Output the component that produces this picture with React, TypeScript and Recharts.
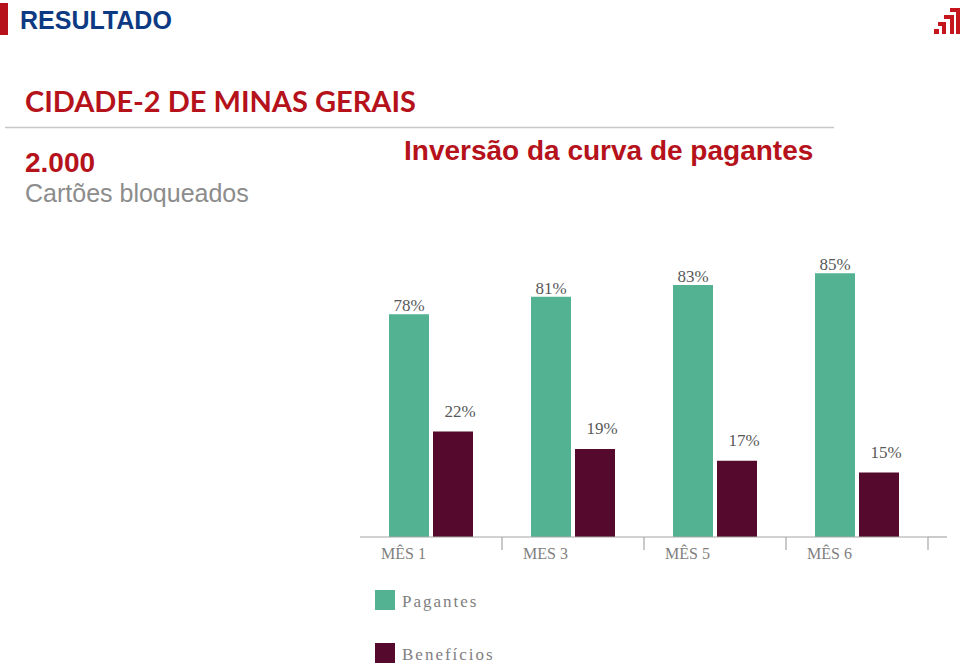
import { BarChart, Bar, XAxis, YAxis, LabelList } from 'recharts'

const months = ['MÊS 1', 'MES 3', 'MÊS 5', 'MÊS 6']
const pagantes = [78, 81, 83, 85]
const beneficios = [22, 19, 17, 15]
const seriesNames = ['Pagantes', 'Benefícios']

const GREEN = '#52b292'
const MAROON = '#550a2d'
const RED = '#b5121b'
const BAND = 142

const data = months.map((m, i) => ({ mes: m, pagantes: pagantes[i], beneficios: beneficios[i] }))
const legendItems = [
  { name: seriesNames[0], color: GREEN },
  { name: seriesNames[1], color: MAROON },
]

function MonthTick(props: any) {
  const { x, y, payload } = props
  return (
    <g>
      <line x1={x + BAND / 2} x2={x + BAND / 2} y1={y} y2={y + 13} stroke="#a6a6a6" strokeWidth={1.2} />
      <text x={x - 50} y={y + 22} textAnchor="start" fontFamily="Liberation Serif" fontSize={16} fill="#7f7f7f">
        {payload.value}
      </text>
    </g>
  )
}

function LegendBox() {
  return (
    <div style={{ position: 'absolute', left: 375, top: 590 }}>
      {legendItems.map((it) => (
        <div key={it.name} style={{ display: 'flex', alignItems: 'center', height: 20, marginBottom: 33 }}>
          <span style={{ width: 20, height: 20, background: it.color, display: 'inline-block' }} />
          <span
            style={{
              marginLeft: 7,
              fontFamily: 'Liberation Serif',
              fontSize: 17,
              letterSpacing: 2,
              color: '#808080',
              position: 'relative',
              top: 2,
            }}
          >
            {it.name}
          </span>
        </div>
      ))}
    </div>
  )
}

export default function App() {
  return (
    <div style={{ position: 'absolute', left: 0, top: 0, width: 960, height: 664, background: '#fff', overflow: 'hidden' }}>
      <svg width={960} height={664} style={{ position: 'absolute', left: 0, top: 0 }}>
        <rect x={0} y={3} width={8} height={32} fill={RED} />
        <text x={20} y={29} fontFamily="Liberation Sans" fontWeight="bold" fontSize={25} fill="#0d3a82">
          RESULTADO
        </text>
        <g fill="#c4161c">
          <rect x={934} y={29} width={5} height={5} />
          <path d="M938 22 H946 V34 H942 V26 H938 Z" />
          <path d="M944 15 H954 V34 H950 V19 H944 Z" />
          <path d="M950 8 H960 V34 H956 V12 H950 Z" />
        </g>
        <text x={25} y={112} fontFamily="Lato" fontWeight="bold" fontSize={29} fill={RED}>
          CIDADE-2 DE MINAS GERAIS
        </text>
        <line x1={5} x2={834} y1={127.5} y2={127.5} stroke="#c8c8c8" strokeWidth={1.5} />
        <text x={25} y={172} fontFamily="Liberation Sans" fontWeight="bold" fontSize={28} fill={RED}>
          2.000
        </text>
        <text x={25} y={202} fontFamily="Liberation Sans" fontSize={25} fill="#8c8c8c">
          Cartões bloqueados
        </text>
        <text x={404} y={160} fontFamily="Liberation Sans" fontWeight="bold" fontSize={28} fill={RED}>
          Inversão da curva de pagantes
        </text>
        <line x1={928} x2={947} y1={537} y2={537} stroke="#a6a6a6" strokeWidth={1.2} />
      </svg>
      <div style={{ position: 'absolute', left: 0, top: 0 }}>
        <BarChart
          width={960}
          height={664}
          data={data}
          margin={{ top: 244, right: 32, bottom: 97, left: 360 }}
          barSize={40}
          barGap={4}
        >
          <XAxis
            dataKey="mes"
            height={30}
            axisLine={{ stroke: '#a6a6a6', strokeWidth: 1.2 }}
            tickLine={false}
            tickSize={0}
            tickMargin={0}
            tick={<MonthTick />}
            interval={0}
          />
          <YAxis yAxisId="p" hide domain={[40, 90]} />
          <YAxis yAxisId="b" hide domain={[4, 54]} />
          <Bar yAxisId="p" dataKey="pagantes" name={seriesNames[0]} fill={GREEN} isAnimationActive={false}>
            <LabelList
              dataKey="pagantes"
              position="top"
              offset={3}
              formatter={(v: any) => `${v}%`}
              style={{ fontFamily: 'Liberation Serif', fontSize: 17, fill: '#595959' }}
            />
          </Bar>
          <Bar yAxisId="b" dataKey="beneficios" name={seriesNames[1]} fill={MAROON} isAnimationActive={false}>
            <LabelList
              dataKey="beneficios"
              position="top"
              offset={15}
              dx={7}
              formatter={(v: any) => `${v}%`}
              style={{ fontFamily: 'Liberation Serif', fontSize: 17, fill: '#595959' }}
            />
          </Bar>
        </BarChart>
      </div>
      <LegendBox />
    </div>
  )
}
